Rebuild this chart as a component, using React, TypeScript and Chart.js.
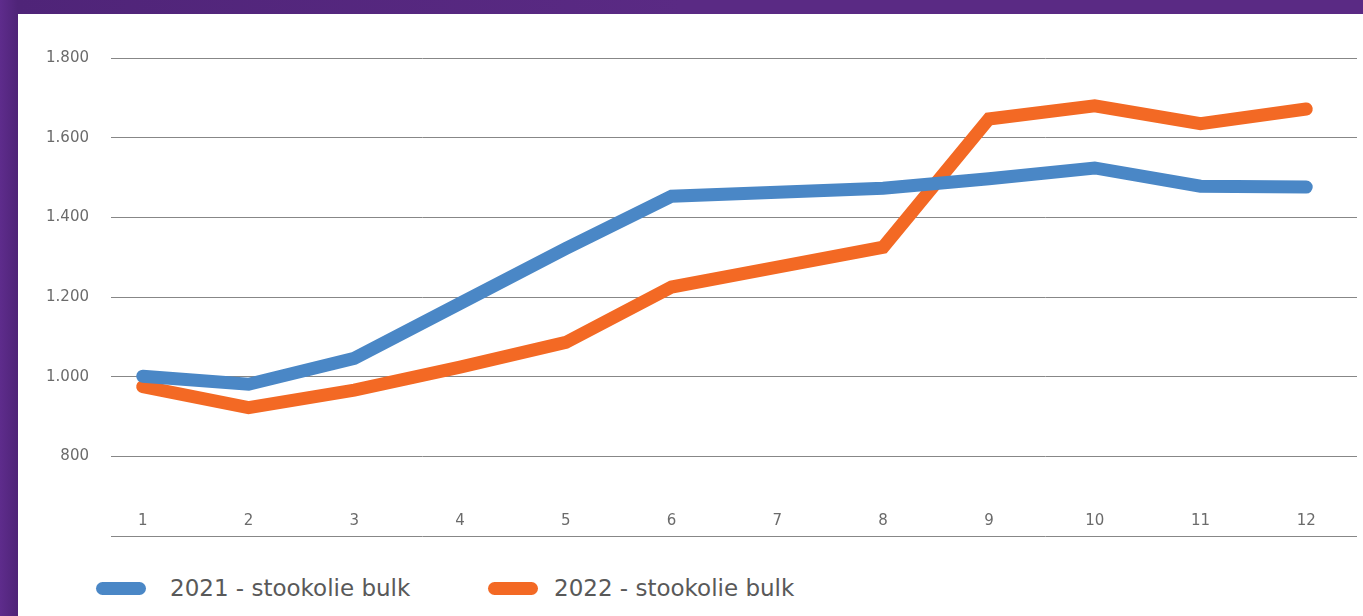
import { useEffect, useRef } from 'react';
import { Chart, registerables } from 'chart.js';

Chart.register(...registerables);

const months = [1, 2, 3, 4, 5, 6, 7, 8, 9, 10, 11, 12];
const series2021 = [1001, 981, 1046, 1184, 1322, 1453, 1463, 1473, 1497, 1524, 1478, 1476];
const series2022 = [975, 922, 966, 1024, 1086, 1225, 1275, 1325, 1647, 1680, 1635, 1672];
const yTickValues = [600, 800, 1000, 1200, 1400, 1600, 1800];
const seriesLabels = ['2021 - stookolie bulk', '2022 - stookolie bulk'];
const seriesColors = ['#4a87c6', '#f36924'];

const fmt = (v: number) => {
  const s = String(Math.round(v));
  return s.replace(/\B(?=(\d{3})+(?!\d))/g, '.');
};

const tickFont = { family: "'DejaVu Sans', sans-serif", size: 15 };

export default function App() {
  const ref = useRef<HTMLCanvasElement | null>(null);

  useEffect(() => {
    if (!ref.current) return;
    const chart = new Chart(ref.current, {
      type: 'line',
      data: {
        datasets: [series2021, series2022].map((vals, i) => ({
          label: seriesLabels[i],
          data: vals.map((v, j) => ({ x: months[j], y: v })),
          borderColor: seriesColors[i],
          backgroundColor: seriesColors[i],
          borderWidth: 13,
          borderCapStyle: 'round' as const,
          borderJoinStyle: 'miter' as const,
          pointRadius: 0,
          pointHoverRadius: 0,
          tension: 0,
          fill: false,
        })),
      },
      options: {
        responsive: false,
        animation: false,
        layout: { padding: { top: 44, right: 6, bottom: 8, left: 0 } },
        plugins: { legend: { display: false }, tooltip: { enabled: false } },
        scales: {
          x: {
            type: 'linear',
            min: 0.7,
            max: 12.48,
            afterBuildTicks: (s: any) => {
              s.ticks = months.map((m) => ({ value: m }));
            },
            afterFit: (s: any) => {
              s.height = 0;
            },
            grid: { display: false, drawTicks: false },
            border: { display: false },
            ticks: {
              mirror: true,
              padding: 6,
              maxRotation: 0,
              autoSkip: false,
              color: '#6b6b6b',
              font: tickFont,
              callback: (v: any) => String(v),
            },
          },
          y: {
            min: 600,
            max: 1800,
            afterBuildTicks: (s: any) => {
              s.ticks = yTickValues.map((v) => ({ value: v }));
            },
            afterFit: (s: any) => {
              s.width = 93;
            },
            grid: { color: '#878787', lineWidth: 1, drawTicks: false },
            border: { display: false },
            ticks: {
              padding: 22,
              color: '#6b6b6b',
              font: tickFont,
              callback: (v: any) => (Number(v) === 600 ? '' : fmt(Number(v))),
            },
          },
        },
      },
    });
    return () => chart.destroy();
  }, []);

  return (
    <div
      style={{
        position: 'absolute',
        left: 0,
        top: 0,
        width: 1363,
        height: 616,
        overflow: 'hidden',
        background: 'linear-gradient(90deg, #5e2c8c 0%, #4f2478 1.3%, #5a2a84 50%, #5a2a84 100%)',
      }}
    >
      <div
        style={{
          position: 'absolute',
          left: 18,
          top: 14,
          width: 1345,
          height: 602,
          background: '#ffffff',
        }}
      />
      <canvas
        ref={ref}
        width={1345}
        height={553}
        style={{ position: 'absolute', left: 18, top: 14, width: 1345, height: 553 }}
      />
      {seriesLabels.map((lab, i) => (
        <div
          key={lab}
          style={{
            position: 'absolute',
            left: i === 0 ? 96 : 488,
            top: 573,
            height: 30,
            display: 'flex',
            alignItems: 'center',
            fontFamily: "'DejaVu Sans', sans-serif",
            fontSize: 23,
            color: '#595959',
            whiteSpace: 'nowrap',
          }}
        >
          <span
            style={{
              display: 'inline-block',
              width: 50,
              height: 13,
              borderRadius: 7,
              background: seriesColors[i],
              marginRight: i === 0 ? 24 : 16,
            }}
          />
          <span>{lab}</span>
        </div>
      ))}
    </div>
  );
}
